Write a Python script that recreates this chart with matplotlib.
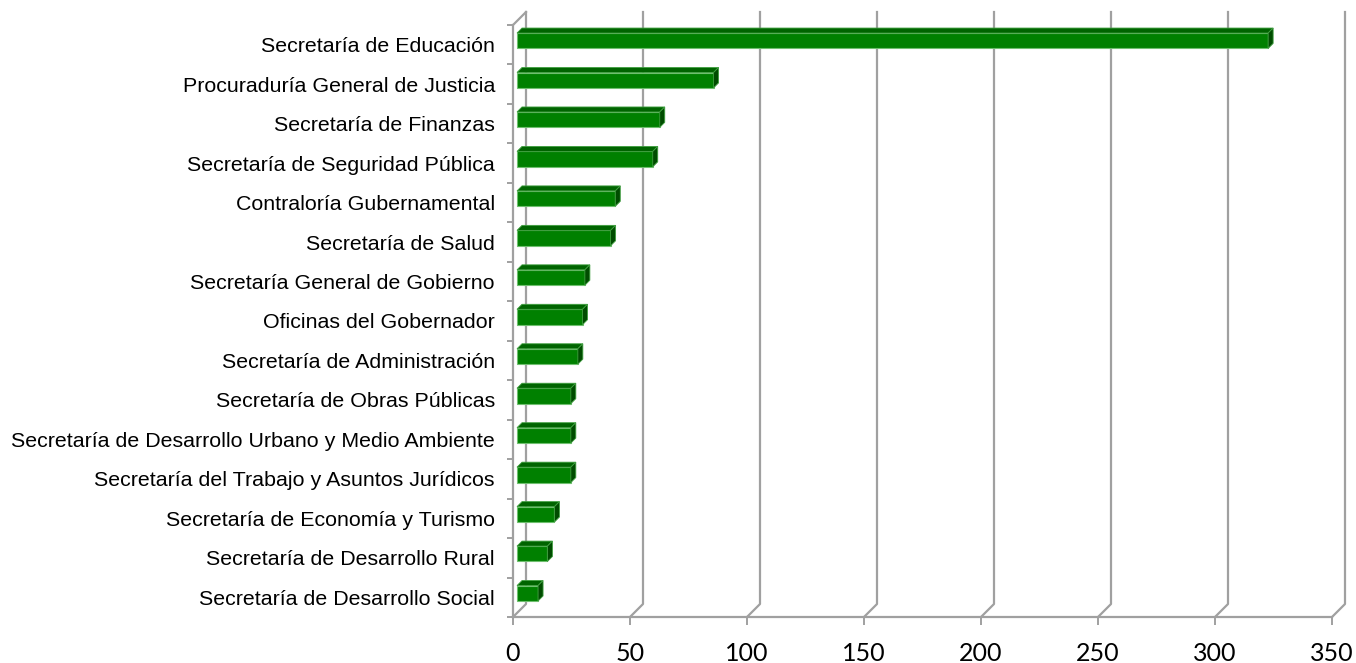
import matplotlib
matplotlib.use("Agg")
import matplotlib.pyplot as plt
from matplotlib.patches import Polygon

categories = [
    "Secretaría de Educación",
    "Procuraduría General de Justicia",
    "Secretaría de Finanzas",
    "Secretaría de Seguridad Pública",
    "Contraloría Gubernamental",
    "Secretaría de Salud",
    "Secretaría General de Gobierno",
    "Oficinas del Gobernador",
    "Secretaría de Administración",
    "Secretaría de Obras Públicas",
    "Secretaría de Desarrollo Urbano y Medio Ambiente",
    "Secretaría del Trabajo y Asuntos Jurídicos",
    "Secretaría de Economía y Turismo",
    "Secretaría de Desarrollo Rural",
    "Secretaría de Desarrollo Social",
]
values = [321, 84, 61, 58, 42, 40, 29, 28, 26, 23, 23, 23, 16, 13, 9]
xticks = [0, 50, 100, 150, 200, 250, 300, 350]

plt.rcParams["font.family"] = ["Liberation Sans", "DejaVu Sans"]

W, H = 1356, 663
fig = plt.figure(figsize=(W / 100, H / 100), dpi=100)
ax = fig.add_axes([513 / W, 46 / H, 819 / W, 592 / H])
n = len(categories)
ax.set_xlim(0, 350)
ax.set_ylim(n, 0)

# pixel -> data units (axes size is fixed)
px = 350 / 819
py = n / 592
wall = 13      # depth of the 3d box, px
shift = 4      # bars sit a bit behind the front plane
bdep = 5       # bar depth, px
grid_c = "#a0a0a0"

# back wall gridlines + floor diagonals
for v in xticks:
    ax.plot([v + wall * px, v + wall * px, v], [-wall * py, n - wall * py, n],
            color=grid_c, lw=1.6, clip_on=False, zorder=1)
ax.plot([0, wall * px], [0, -wall * py], color=grid_c, lw=1.6, clip_on=False, zorder=1)

# bars
front = "#008000"
top_c = "#006400"
side_c = "#004c00"
bh = 0.39
x0 = shift * px
ys = [i + 0.5 - shift * py for i in range(n)]
ax.barh(ys, values, left=x0, height=bh, color=front, edgecolor="#6fbf6f",
        linewidth=0.8, zorder=3)
dx, dy = bdep * px, bdep * py
for y, v in zip(ys, values):
    x1 = x0 + v
    yt, yb = y - bh / 2, y + bh / 2
    ax.add_patch(Polygon([(x0, yt), (x0 + dx, yt - dy), (x1 + dx, yt - dy), (x1, yt)],
                         closed=True, fc=top_c, ec="#3f9f3f", lw=0.6, zorder=3, clip_on=False))
    ax.add_patch(Polygon([(x1, yt), (x1 + dx, yt - dy), (x1 + dx, yb - dy), (x1, yb)],
                         closed=True, fc=side_c, ec="#3f9f3f", lw=0.6, zorder=3, clip_on=False))

for s in ["top", "right"]:
    ax.spines[s].set_visible(False)
for s in ["left", "bottom"]:
    ax.spines[s].set_color(grid_c)
    ax.spines[s].set_linewidth(1.6)
    ax.spines[s].set_zorder(2)

ax.set_yticks(range(n + 1))
ax.set_yticklabels([])
ax.set_yticks([i + 0.5 for i in range(n)], minor=True)
ax.set_yticklabels(categories, minor=True)
ax.tick_params(axis="y", which="major", length=4, width=1.4, color=grid_c, direction="out")
ax.tick_params(axis="y", which="minor", length=0, pad=13, labelsize=15.4)

ax.set_xticks(xticks)
ax.set_xticklabels([str(t) for t in xticks], family=["Lato", "DejaVu Sans"], fontsize=18)
ax.tick_params(axis="x", which="major", length=6, width=1.4, color=grid_c, pad=12)

fig.savefig("out.png", dpi=100)
